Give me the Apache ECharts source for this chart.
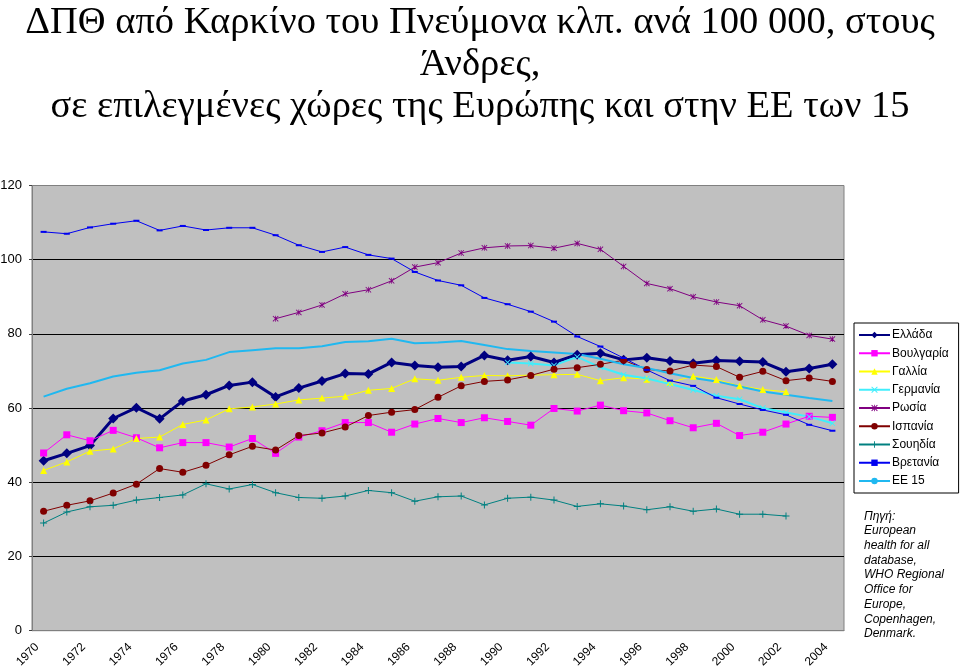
<!DOCTYPE html>
<html>
	<head>
		<meta charset="utf-8" />
		<title>ΔΠΘ Καρκίνος Πνεύμονα</title>
		<style>
			html, body {
				width: 100%;
				height: 100%;
				margin: 0;
				padding: 0;
				background: #fff;
			}
			#main {
				width: 960px;
				height: 666px;
			}
		</style>
	</head>
	<body>
		<div id="main"></div>
		<script src="https://cdn.jsdelivr.net/npm/echarts@6/dist/echarts.min.js"></script>
		<script>
			var years = [];
			for (var y = 1970; y <= 2004; y++) years.push(String(y));

			var greece = [45.8, 47.8, 49.9, 57.2, 60.1, 57.1, 61.9, 63.6, 66.1, 67.0, 63.0, 65.4, 67.3, 69.3, 69.2, 72.3, 71.5, 71.0, 71.2, 74.2, 72.9, 73.9, 72.3, 74.4, 74.8, 73.0, 73.6, 72.7, 72.1, 72.8, 72.6, 72.4, 69.8, 70.7, 71.8];
			var bulgaria = [47.9, 52.8, 51.2, 54.0, 52.0, 49.3, 50.7, 50.7, 49.5, 51.8, 47.8, 52.2, 53.9, 56.1, 56.1, 53.5, 55.7, 57.2, 56.1, 57.4, 56.4, 55.4, 59.9, 59.2, 60.8, 59.3, 58.7, 56.6, 54.7, 55.9, 52.6, 53.5, 55.7, 57.8, 57.5];
			var france = [43.2, 45.5, 48.4, 49.0, 51.8, 52.2, 55.6, 56.8, 59.8, 60.3, 61.1, 62.2, 62.7, 63.2, 64.8, 65.3, 67.9, 67.5, 68.3, 68.8, 68.7, 68.9, 69.0, 69.1, 67.4, 68.2, 67.8, 66.9, 68.6, 67.7, 66.0, 65.0, 64.4, null, null];
			var germany = [null, null, null, null, null, null, null, null, null, null, null, null, null, null, null, null, null, null, null, null, 72.3, 72.0, 71.5, 73.8, 71.0, 69.0, 68.0, 66.5, 64.9, 63.3, 62.4, 60.0, 58.8, 57.7, 55.9];
			var russia = [null, null, null, null, null, null, null, null, null, null, 84.1, 85.8, 87.8, 90.8, 91.9, 94.3, 98.0, 99.2, 101.8, 103.2, 103.7, 103.8, 103.1, 104.4, 102.8, 98.2, 93.6, 92.2, 90.0, 88.6, 87.6, 83.8, 82.1, 79.6, 78.6];
			var spain = [32.2, 33.8, 35.0, 37.1, 39.5, 43.7, 42.7, 44.6, 47.4, 49.7, 48.7, 52.6, 53.3, 54.9, 58.0, 58.9, 59.6, 62.9, 66.0, 67.2, 67.6, 68.8, 70.5, 70.9, 71.8, 72.9, 70.4, 70.0, 71.6, 71.2, 68.3, 69.9, 67.4, 68.1, 67.2];
			var sweden = [29.0, 32.0, 33.4, 33.8, 35.2, 35.9, 36.6, 39.6, 38.2, 39.4, 37.2, 35.9, 35.7, 36.3, 37.8, 37.2, 34.9, 36.1, 36.3, 33.9, 35.7, 36.0, 35.2, 33.5, 34.2, 33.6, 32.6, 33.4, 32.2, 32.8, 31.4, 31.4, 30.9, null, null];
			var britain = [107.5, 107.0, 108.7, 109.7, 110.5, 107.9, 109.1, 108.0, 108.6, 108.6, 106.6, 103.9, 102.1, 103.4, 101.3, 100.3, 96.7, 94.4, 93.1, 89.7, 88.0, 86.0, 83.3, 79.3, 76.6, 73.5, 70.3, 67.4, 66.0, 62.8, 61.1, 59.5, 58.2, 55.5, 53.9];
			var eu15 = [63.1, 65.2, 66.7, 68.5, 69.5, 70.2, 72.0, 73.0, 75.1, 75.6, 76.1, 76.1, 76.7, 77.8, 78.0, 78.7, 77.5, 77.7, 78.1, 77.0, 75.9, 75.4, 75.0, 74.6, 73.3, 71.8, 70.8, 69.4, 68.1, 67.2, 65.8, 64.5, 63.6, 62.7, 61.9];

			var titleText = 'ΔΠΘ από Καρκίνο του Πνεύμονα κλπ. ανά 100 000, στους\nΆνδρες,\nσε επιλεγμένες χώρες της Ευρώπης και στην ΕΕ των 15';
			var sourceText = 'Πηγή:\nEuropean\nhealth for all\ndatabase,\nWHO Regional\nOffice for\nEurope,\nCopenhagen,\nDenmark.';

			// marker shapes Excel uses
			var xMark = 'path://M0,1L1,0L5,4L9,0L10,1L6,5L10,9L9,10L5,6L1,10L0,9L4,5Z';
			var plusMark = 'path://M4.3,0H5.7V4.3H10V5.7H5.7V10H4.3V5.7H0V4.3H4.3Z';
			var starMark = 'path://M0,1L1,0L5,4L9,0L10,1L6,5L10,9L9,10L5,6L1,10L0,9L4,5ZM4.4,0H5.6V10H4.4Z';
			var dashMark = 'path://M0,0H10V3H0Z';

			function line(name, data, color, width, symbol, size) {
				return {
					name: name,
					type: 'line',
					data: data,
					symbol: symbol,
					symbolSize: size,
					showSymbol: symbol !== 'none',
					connectNulls: false,
					animation: false,
					lineStyle: { color: color, width: width },
					itemStyle: { color: color }
				};
			}

			var chart = echarts.init(document.getElementById('main'), null, { renderer: 'canvas' });
			chart.setOption({
				animation: false,
				title: {
					text: titleText,
					left: 'center',
					top: -3,
					textStyle: {
						fontFamily: '"Liberation Serif", "Times New Roman", serif',
						fontSize: 38.5,
						fontWeight: 'normal',
						lineHeight: 42,
						color: '#000'
					}
				},
				grid: {
					left: 32,
					right: 116,
					top: 185.5,
					bottom: 35.3,
					outerBoundsMode: 'none',
					containLabel: false,
					show: true,
					backgroundColor: '#c0c0c0',
					borderColor: '#808080',
					borderWidth: 1
				},
				legend: {
					orient: 'vertical',
					left: 854,
					top: 323,
					padding: [5, 10, 5, 4],
					itemWidth: 31,
					itemHeight: 8,
					itemGap: 4.25,
					backgroundColor: '#fff',
					borderColor: '#000',
					borderWidth: 1,
					borderRadius: 0,
					textStyle: {
						fontFamily: '"Liberation Sans", Arial, sans-serif',
						fontSize: 12,
						lineHeight: 14,
						color: '#000',
						padding: [0, 0, 0, -3]
					}
				},
				xAxis: {
					type: 'category',
					data: years,
					boundaryGap: true,
					axisLine: { lineStyle: { color: '#808080' } },
					axisTick: { interval: 0, length: 4, lineStyle: { color: '#404040' } },
					axisLabel: {
						interval: 1,
						rotate: 45,
						margin: 8,
						padding: [0, 9, 0, 0],
						color: '#000',
						fontFamily: '"Liberation Sans", Arial, sans-serif',
						fontSize: 12
					},
					splitLine: { show: false }
				},
				yAxis: {
					type: 'value',
					min: 0,
					max: 120,
					interval: 20,
					axisLine: { show: true, lineStyle: { color: '#808080' } },
					axisTick: { show: true, length: 3, lineStyle: { color: '#404040' } },
					axisLabel: {
						margin: 10,
						color: '#000',
						fontFamily: '"Liberation Sans", Arial, sans-serif',
						fontSize: 13
					},
					splitLine: {
						lineStyle: {
							color: ['#808080', '#000', '#000', '#000', '#000', '#000', '#808080'],
							width: 1
						}
					}
				},
				graphic: [{
					type: 'text',
					left: 864,
					top: 509,
					style: {
						text: sourceText,
						font: 'italic 12px "Liberation Sans", Arial, sans-serif',
						lineHeight: 14.7,
						fill: '#000'
					}
				}],
				series: [
					line('Ελλάδα', greece, '#000080', 3, 'diamond', 10),
					line('Βουλγαρία', bulgaria, '#ff00ff', 1, 'rect', 7),
					line('Γαλλία', france, '#ffff00', 1, 'triangle', 7),
					line('Γερμανία', germany, '#40eefc', 2, xMark, 6),
					line('Ρωσία', russia, '#800080', 1, starMark, 6),
					line('Ισπανία', spain, '#800000', 1, 'circle', 7),
					line('Σουηδία', sweden, '#008080', 1, plusMark, 7),
					line('Βρετανία', britain, '#0000f0', 1, dashMark, [6, 2]),
					line('ΕΕ 15', eu15, '#20b8f0', 2, 'none', 0)
				]
			});
		</script>
	</body>
</html>
